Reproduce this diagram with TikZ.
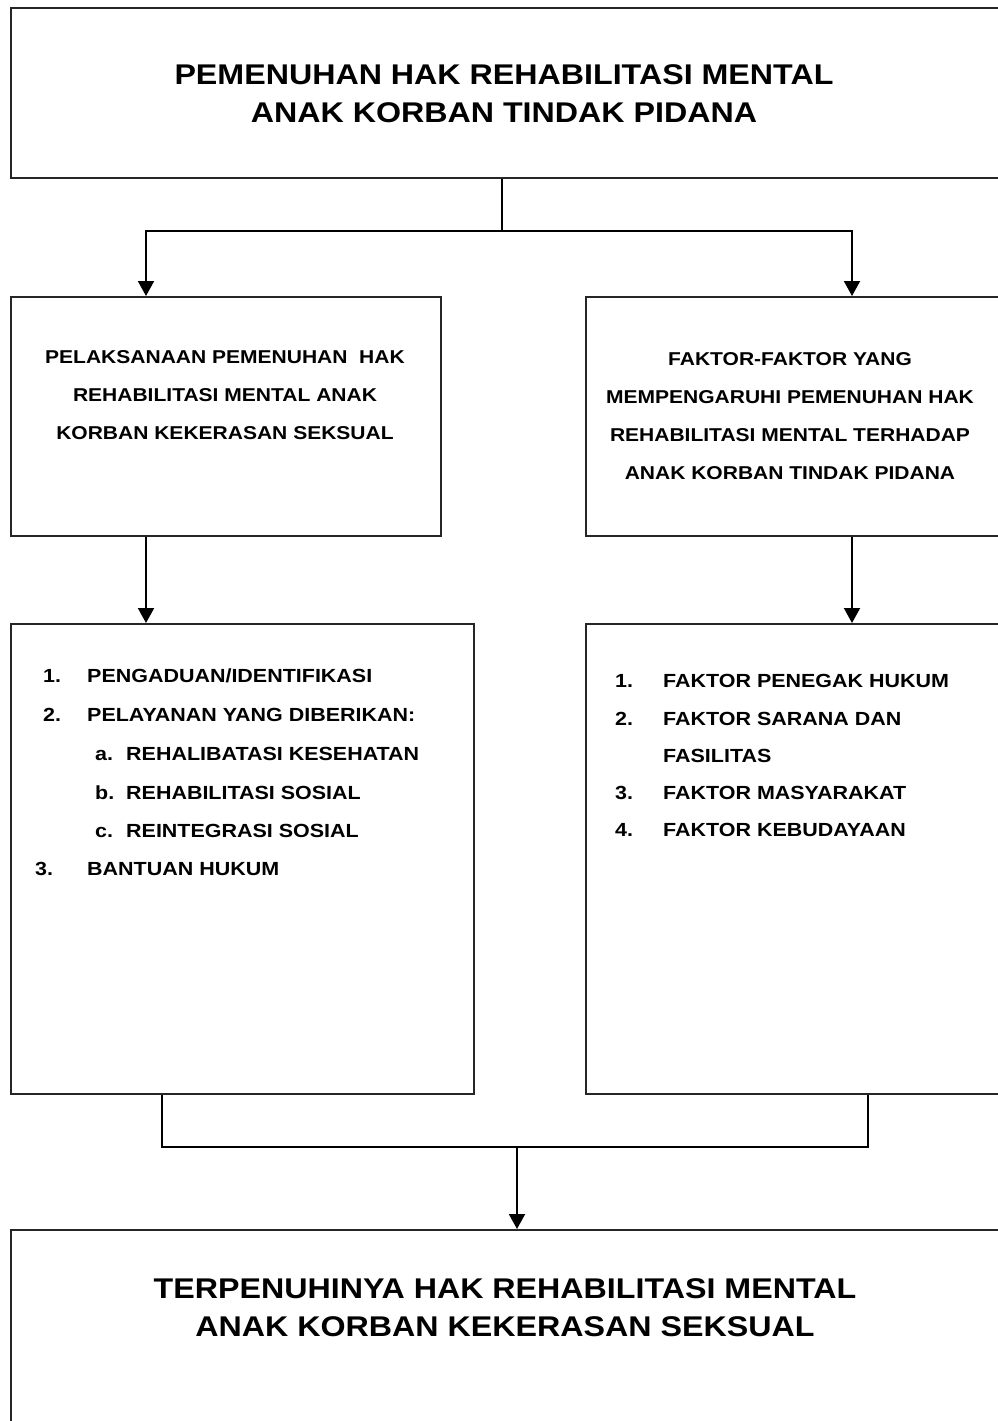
\documentclass[tikz,border=0pt]{standalone}
\usepackage{fontspec}
\setmainfont{Liberation Sans}[FakeStretch=1.13]
\usetikzlibrary{arrows.meta,calc}
\begin{document}
\begin{tikzpicture}[x=1pt,y=-1pt,
  box/.style={draw=black!85, line width=1.6pt, rectangle, inner sep=0pt, anchor=north west},
  conn/.style={line width=2pt, black},
  arr/.style={conn, -{Triangle[length=15pt,width=16pt]}},
  titletext/.style={font=\fontsize{28.5}{37.5}\selectfont\bfseries, align=center, inner sep=0pt},
  headtext/.style={font=\fontsize{18.6}{37.8}\selectfont\bfseries, align=center, inner sep=0pt},
  itemtext/.style={font=\fontsize{19}{22}\selectfont\bfseries, inner sep=0pt, anchor=west, text height=13.6pt, text depth=0pt}]
\useasboundingbox (0,0) rectangle (998,1421);
\clip (0,0) rectangle (998,1421);

% boxes
\node[box, minimum width=1000pt, minimum height=170pt] (top) at (10,7) {};
\node[box, minimum width=430pt, minimum height=239pt] (b1) at (10,296) {};
\node[box, minimum width=430pt, minimum height=239pt] (b2) at (585,296) {};
\node[box, minimum width=463pt, minimum height=470pt] (b3) at (10,623) {};
\node[box, minimum width=430pt, minimum height=470pt] (b4) at (585,623) {};
\node[box, minimum width=1000pt, minimum height=250pt] (b5) at (10,1229) {};

% titles
\node[titletext] (ttop) at (504,93.5) {PEMENUHAN HAK REHABILITASI MENTAL\\ANAK KORBAN TINDAK PIDANA};
\node[titletext] (tbot) at (505,1307.5) {TERPENUHINYA HAK REHABILITASI MENTAL\\ANAK KORBAN KEKERASAN SEKSUAL};

% headers
\node[headtext] (h1) at (225,395) {PELAKSANAAN PEMENUHAN\ \ HAK\\REHABILITASI MENTAL ANAK\\KORBAN KEKERASAN SEKSUAL};
\node[headtext] (h2) at (790,416) {FAKTOR-FAKTOR YANG\\MEMPENGARUHI PEMENUHAN HAK\\REHABILITASI MENTAL TERHADAP\\ANAK KORBAN TINDAK PIDANA};

% left list
\node[itemtext] (n1) at (43,676) {1.};
\node[itemtext] (l1) at (87,676) {PENGADUAN/IDENTIFIKASI};
\node[itemtext] (n2) at (43,715) {2.};
\node[itemtext] (l2) at (87,715) {PELAYANAN YANG DIBERIKAN:};
\node[itemtext] (na) at (95,754) {a.};
\node[itemtext] (la) at (126,754) {REHALIBATASI KESEHATAN};
\node[itemtext] (nb) at (95,793) {b.};
\node[itemtext] (lb) at (126,793) {REHABILITASI SOSIAL};
\node[itemtext] (nc) at (95,831) {c.};
\node[itemtext] (lc) at (126,831) {REINTEGRASI SOSIAL};
\node[itemtext] (n3) at (35,869) {3.};
\node[itemtext] (l3) at (87,869) {BANTUAN HUKUM};

% right list
\node[itemtext] (m1) at (615,681) {1.};
\node[itemtext] (r1) at (663,681) {FAKTOR PENEGAK HUKUM};
\node[itemtext] (m2) at (615,719) {2.};
\node[itemtext] (r2) at (663,719) {FAKTOR SARANA DAN};
\node[itemtext] (r2b) at (663,756) {FASILITAS};
\node[itemtext] (m3) at (615,793) {3.};
\node[itemtext] (r3) at (663,793) {FAKTOR MASYARAKAT};
\node[itemtext] (m4) at (615,830) {4.};
\node[itemtext] (r4) at (663,830) {FAKTOR KEBUDAYAAN};

% connectors
\coordinate (jtop) at (502,231);
\coordinate (jL) at (146,231);
\coordinate (jR) at (852,231);
\draw[conn] (jtop |- top.south) -- (jtop);
\draw[arr] (jtop) -| (jL |- b1.north);
\draw[arr] (jtop) -| (jR |- b2.north);
\draw[arr] (jL |- b1.south) -- (jL |- b3.north);
\draw[arr] (jR |- b2.south) -- (jR |- b4.north);

\coordinate (kL) at (162,1147);
\coordinate (kR) at (868,1147);
\coordinate (kM) at (517,1147);
\draw[conn] (kL |- b3.south) -- (kL) -- (kR) -- (kR |- b4.south);
\draw[arr] (kM) -- (kM |- b5.north);
\end{tikzpicture}
\end{document}
